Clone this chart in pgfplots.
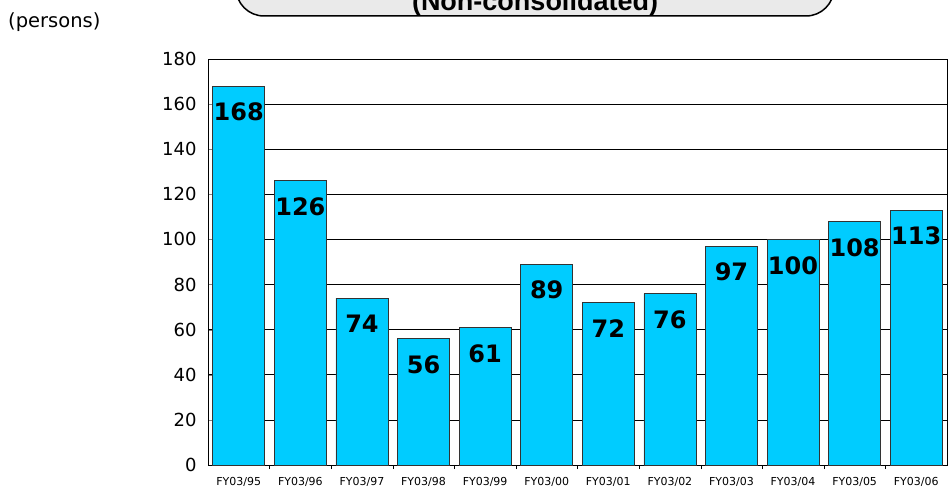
\documentclass[border=0pt]{standalone}
\usepackage{pgfplots}
\pgfplotsset{compat=1.18}
\usepackage{fontspec}
\setmainfont{DejaVu Sans}
\newfontfamily\titlefont{Liberation Sans}
\definecolor{barcyan}{HTML}{00CCFF}
\definecolor{boxgray}{HTML}{EAEAEA}
\begin{document}
\begin{tikzpicture}[x=1pt,y=1pt]
\useasboundingbox (0,0) rectangle (948,488);
\draw[line width=1.5pt, fill=boxgray, rounded corners=28pt] (236,472) rectangle (834,520);
\node[anchor=base, inner sep=0pt, font=\titlefont\fontsize{27}{27}\selectfont\bfseries] at (535,477) {(Non-consolidated)};
\node[anchor=base west, inner sep=0pt, font=\fontsize{19.5}{19.5}\selectfont] at (8,460) {(persons)};
\begin{axis}[
  at={(208pt,23pt)}, anchor=south west,
  scale only axis, width=739pt, height=406pt,
  xmin=-0.5, xmax=11.5, ymin=0, ymax=180,
  ytick={0,20,...,180},
  ymajorgrids, grid style={black, line width=0.6pt},
  axis line style={black, line width=0.8pt},
  xtick={0,...,11},
  xticklabels={FY03/95,FY03/96,FY03/97,FY03/98,FY03/99,FY03/00,FY03/01,FY03/02,FY03/03,FY03/04,FY03/05,FY03/06},
  minor xtick={0.5,1.5,...,10.5},
  x tick style={draw=none},
  minor x tick style={draw=black},
  tick pos=left,
  tick align=inside, major tick length=5pt, minor tick length=4pt,
  y tick label style={font=\fontsize{18}{18}\selectfont, xshift=-8pt},
  x tick label style={font=\fontsize{11}{11}\selectfont, yshift=-4pt},
  /pgf/number format/assume math mode=true,
  ybar, bar width=52pt,
  nodes near coords,
  every node near coord/.append style={anchor=center, yshift=-26pt, inner sep=0pt, font=\fontsize{24}{24}\selectfont\bfseries},
]
\addplot[fill=barcyan, draw=black!80, line width=0.6pt] coordinates {
(0,168) (1,126) (2,74) (3,56) (4,61) (5,89) (6,72) (7,76) (8,97) (9,100) (10,108) (11,113)
};
\end{axis}
\end{tikzpicture}
\end{document}
